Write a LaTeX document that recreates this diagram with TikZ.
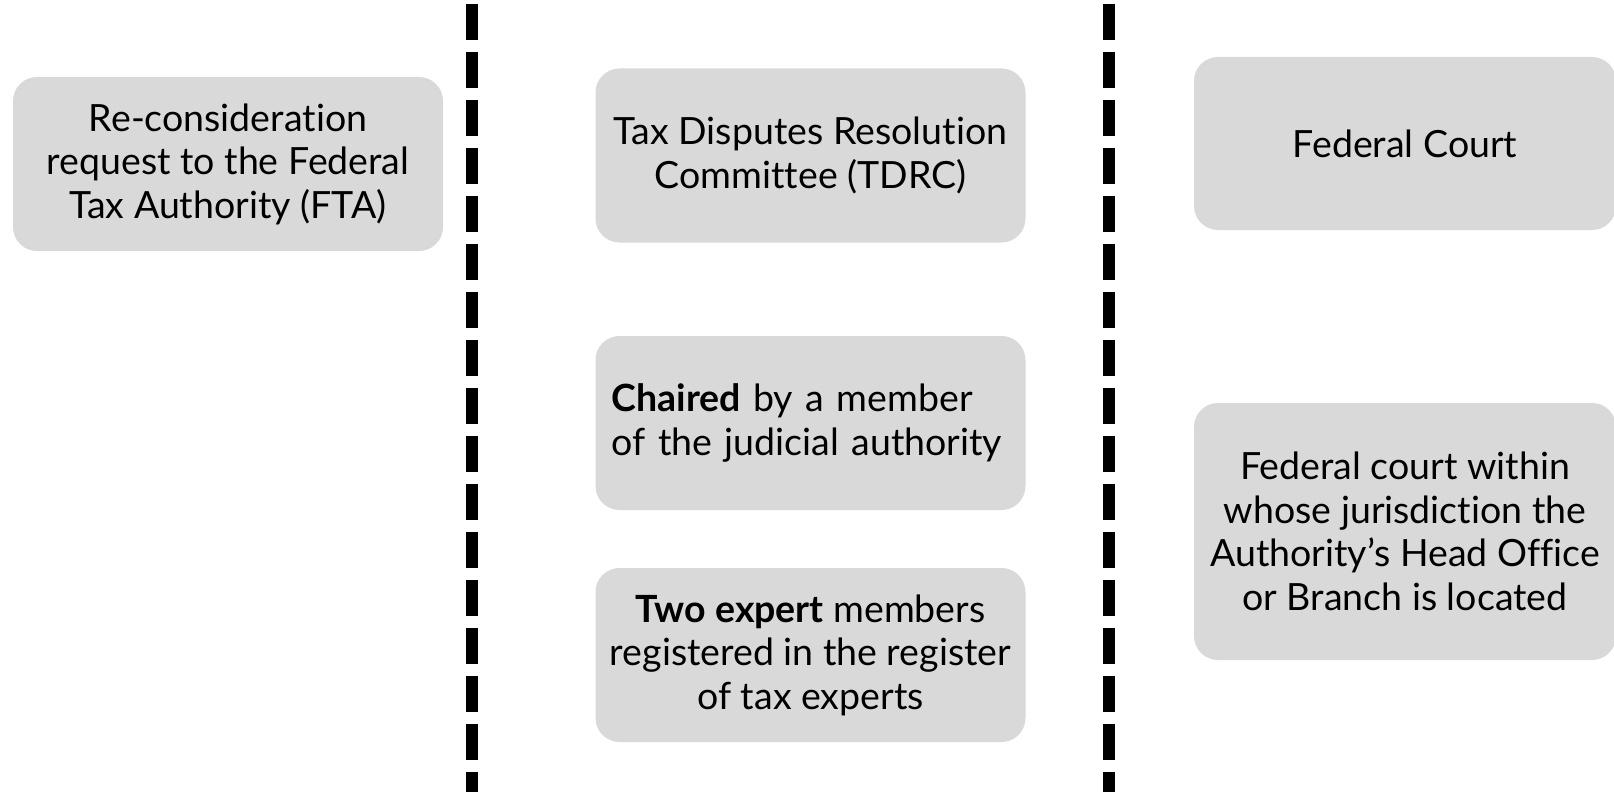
\documentclass[tikz,border=0pt]{standalone}
\usepackage{fontspec}
\setmainfont[Ligatures=NoCommon]{Lato}
\usepackage{xcolor}
\definecolor{boxgray}{RGB}{217, 217, 217}
\definecolor{textdark}{RGB}{0, 0, 0}

\begin{document}
\begin{tikzpicture}[
    x=1pt, y=-1pt,
    stage/.style={rectangle, fill=boxgray, rounded corners=24pt, minimum width=430pt, minimum height=174pt, align=center, inner sep=0pt, font=\fontsize{37.5}{43.5}\selectfont, text=textdark},
    divider/.style={line width=12pt, dash pattern=on 36pt off 12pt, color=textdark},
]

% Canvas
\useasboundingbox (0,0) rectangle (1614,792);

% Dividers between the three stages
\coordinate (div1top) at (472,4);
\coordinate (div1bot) at (472,792);
\coordinate (div2top) at (1109,4);
\coordinate (div2bot) at (1109,792);
\draw[divider] (div1top) -- (div1bot);
\draw[divider] (div2top) -- (div2bot);

% Stage 1
\node[stage] (fta) at (228, 164) {Re-consideration\\request to the Federal\\Tax Authority (FTA)};

% Stage 2
\node[stage] (tdrc) at (810.5, 155.5) {Tax Disputes Resolution\\Committee (TDRC)};
\node[stage, align=left, text width=398pt] (chair) at (810.5, 423) {\textbf{Chaired} by a member\\of the judicial authority};
\node[stage] (experts) at (810.5, 655) {\textbf{Two expert} members\\registered in the register\\of tax experts};

% Stage 3
\node[stage, minimum width=422pt, minimum height=173pt] (court) at (1405, 143.5) {Federal Court};
\node[stage, minimum width=422pt, minimum height=257pt] (branch) at (1405, 531.5) {Federal court within\\whose jurisdiction the\\Authority’s Head Office\\or Branch is located};

\end{tikzpicture}
\end{document}
